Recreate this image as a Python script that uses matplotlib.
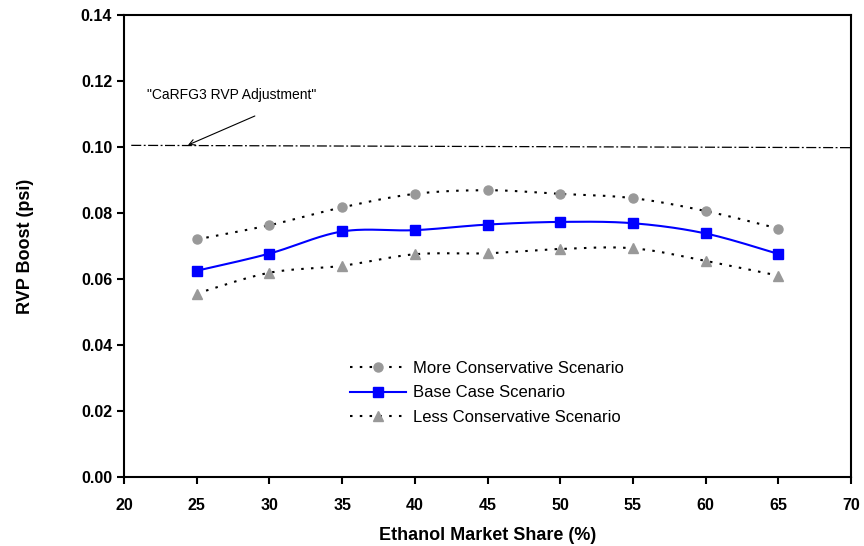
import numpy as np
import matplotlib
matplotlib.use('Agg')
import matplotlib.pyplot as plt

plt.rcParams['font.family'] = ['Liberation Sans', 'DejaVu Sans']

share = [25, 30, 35, 40, 45, 50, 55, 60, 65]
more_cons = [0.0720, 0.0763, 0.0817, 0.0858, 0.0869, 0.0858, 0.0845, 0.0806, 0.0753]
base_case = [0.0625, 0.0677, 0.0744, 0.0748, 0.0765, 0.0773, 0.0769, 0.0738, 0.0676]
less_cons = [0.0556, 0.0619, 0.0640, 0.0675, 0.0678, 0.0691, 0.0693, 0.0655, 0.0610]

ref_x = [20.5, 70]
ref_y = [0.1005, 0.0998]


def smooth(x, y, n=30):
    # excel-style smoothed line (catmull-rom through the points)
    x = np.asarray(x, float)
    y = np.asarray(y, float)
    px = np.concatenate([[x[0]], x, [x[-1]]])
    py = np.concatenate([[y[0]], y, [y[-1]]])
    xs, ys = [], []
    t = np.linspace(0, 1, n)
    for i in range(1, len(px) - 2):
        p0 = np.array([px[i - 1], py[i - 1]])
        p1 = np.array([px[i], py[i]])
        p2 = np.array([px[i + 1], py[i + 1]])
        p3 = np.array([px[i + 2], py[i + 2]])
        c1 = p1 + (p2 - p0) / 6
        c2 = p2 - (p3 - p1) / 6
        for tt in t:
            b = ((1 - tt) ** 3 * p1 + 3 * (1 - tt) ** 2 * tt * c1
                 + 3 * (1 - tt) * tt ** 2 * c2 + tt ** 3 * p2)
            xs.append(b[0])
            ys.append(b[1])
    return xs, ys


fig = plt.figure(figsize=(8.64, 5.46), dpi=100)
ax = fig.add_axes([0.1435, 0.1264, 0.8415, 0.8461])

gray = '#999999'

ax.plot(ref_x, ref_y, color='black', lw=0.9, dashes=(8, 2, 1.5, 2))

sx, sy = smooth(share, more_cons)
ax.plot(sx, sy, color='black', lw=1.5, dashes=(1.2, 3.5))
sx, sy = smooth(share, base_case)
ax.plot(sx, sy, color='#0000ff', lw=1.5)
sx, sy = smooth(share, less_cons)
ax.plot(sx, sy, color='black', lw=1.5, dashes=(1.2, 3.5))

ax.plot(share, more_cons, 'o', color=gray, ms=6.5, zorder=3)
ax.plot(share, base_case, 's', color='#0000ff', ms=6.5, zorder=3)
ax.plot(share, less_cons, '^', color=gray, ms=7, zorder=3)

# legend handles
h1, = ax.plot([], [], color='black', lw=1.5, dashes=(1.2, 3.5), marker='o',
              mfc=gray, mec=gray, ms=6.5)
h2, = ax.plot([], [], color='#0000ff', lw=1.5, marker='s', ms=6.5)
h3, = ax.plot([], [], color='black', lw=1.5, dashes=(1.2, 3.5), marker='^',
              mfc=gray, mec=gray, ms=7)
ax.legend([h1, h2, h3],
          ['More Conservative Scenario', 'Base Case Scenario', 'Less Conservative Scenario'],
          loc='upper left', bbox_to_anchor=(0.29, 0.283), frameon=False,
          fontsize=12, handlelength=3.4, handletextpad=0.4, labelspacing=0.55)

ax.text(27.4, 0.1158, '"CaRFG3 RVP Adjustment"', ha='center', va='center', fontsize=10)
ax.annotate('', xy=(24.4, 0.1006), xytext=(29.0, 0.1094),
            arrowprops=dict(arrowstyle='->', color='black', lw=0.8, shrinkA=0, shrinkB=0))

ax.set_xlim(20, 70)
ax.set_ylim(0, 0.14)
ax.set_xticks(range(20, 71, 5))
ax.set_yticks(np.arange(0, 0.141, 0.02))
ax.set_yticklabels([f'{v:.2f}' for v in np.arange(0, 0.141, 0.02)])

for s in ax.spines.values():
    s.set_linewidth(1.5)
ax.tick_params(direction='out', length=5, width=1.5, labelsize=11.5)
ax.tick_params(axis='x', pad=10)
for lab in ax.get_xticklabels() + ax.get_yticklabels():
    lab.set_fontweight('bold')

ax.set_xlabel('Ethanol Market Share (%)', fontsize=13, fontweight='bold', labelpad=10)
ax.set_ylabel('RVP Boost (psi)', fontsize=13, fontweight='bold', labelpad=34)

fig.savefig('out.png', dpi=100)
